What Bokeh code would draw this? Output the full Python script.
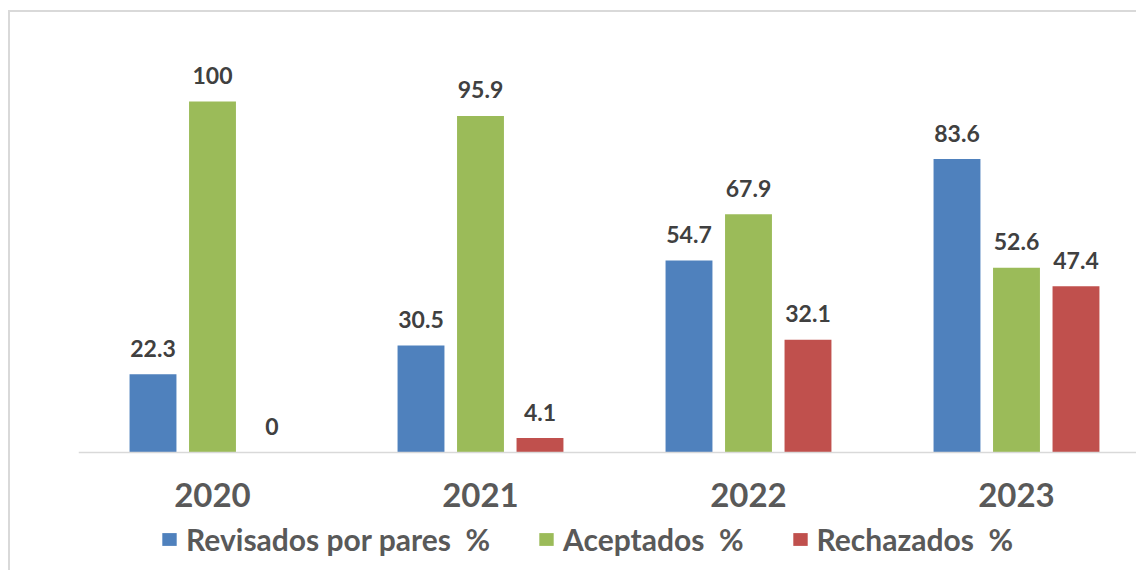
from bokeh.plotting import figure
from bokeh.layouts import column
from bokeh.models import ColumnDataSource, Legend, LegendItem, Range1d, FixedTicker
from bokeh.core.properties import value
from bokeh.transform import dodge
from bokeh.embed import file_html
from bokeh.resources import INLINE

years = ["2020", "2021", "2022", "2023"]
revisados = [22.3, 30.5, 54.7, 83.6]
aceptados = [100, 95.9, 67.9, 52.6]
rechazados = [0, 4.1, 32.1, 47.4]
series_names = ["Revisados por pares  %", "Aceptados  %", "Rechazados  %"]
colors = ["#4F81BD", "#9BBB59", "#C0504D"]

idx = list(range(len(years)))
fmt = lambda v: f"{v:g}"
src = ColumnDataSource(dict(
    idx=idx,
    rev=revisados, acc=aceptados, rec=rechazados,
    rev_l=[fmt(v) for v in revisados],
    acc_l=[fmt(v) for v in aceptados],
    rec_l=[fmt(v) for v in rechazados],
))

PX = 3.51  # pixels per percentage unit
p = figure(width=1126, height=558, output_backend="svg", toolbar_location=None,
           x_range=Range1d(-0.5, 3.4478), y_range=Range1d(-118 / PX, 440 / PX),
           min_border_left=68, min_border_right=0, min_border_top=0, min_border_bottom=0)
p.outline_line_color = None
p.grid.visible = False
p.yaxis.visible = False

ax = p.xaxis[0]
ax.fixed_location = 0
ax.ticker = FixedTicker(ticks=idx)
ax.major_label_overrides = {i: y for i, y in zip(idx, years)}
ax.major_tick_line_color = None
ax.minor_tick_line_color = None
ax.axis_line_color = "#d9d9d9"
ax.axis_line_width = 1.5
ax.major_label_text_font = "Lato"
ax.major_label_text_font_size = "33px"
ax.major_label_text_font_style = "bold"
ax.major_label_text_color = "#595959"
ax.major_label_standoff = 24

offsets = [-0.222, 0.0, 0.222]
cols = ["rev", "acc", "rec"]
items = []
for name, col, off, c in zip(series_names, cols, offsets, colors):
    r = p.vbar(x=dodge("idx", off, range=p.x_range), top=col, width=0.175, bottom=0,
               source=src, fill_color=c, line_color=None)
    p.text(x=dodge("idx", off, range=p.x_range), y=col, text=col + "_l", source=src,
           text_align="center", text_baseline="alphabetic", y_offset=-26,
           text_font=value("Lato"), text_font_size="23px", text_font_style="bold",
           text_color="#404040")
    items.append(LegendItem(label=name, renderers=[r]))

legend = Legend(items=items, orientation="horizontal", location=(82, 13),
                label_text_font="Lato", label_text_font_size="30px",
                label_text_font_style="bold", label_text_color="#595959",
                glyph_width=18, glyph_height=16, label_standoff=8,
                spacing=47, padding=0, margin=0,
                border_line_color=None, background_fill_alpha=0)
p.add_layout(legend, "center")

layout = column(p, styles={"border-top": "2px solid #d9d9d9",
                           "border-left": "2px solid #d9d9d9",
                           "margin-top": "10px", "margin-left": "8px"})

open("out.html", "w").write(file_html(layout, INLINE))
